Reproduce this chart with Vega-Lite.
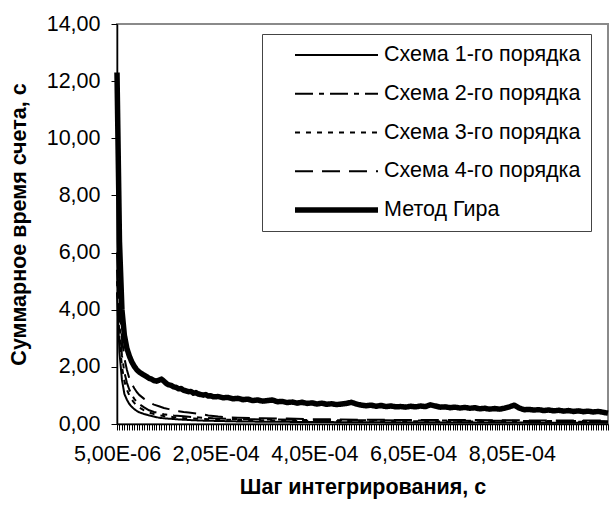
{
  "$schema": "https://vega.github.io/schema/vega-lite/v6.json",
  "width": 491,
  "height": 400,
  "autosize": {"type": "none"},
  "padding": {"left": 117, "top": 24, "right": 2, "bottom": 82},
  "background": "white",
  "config": {
    "font": "Liberation Sans",
    "view": {"stroke": "#8a8a8a", "strokeWidth": 2}
  },
  "data": {"values": [
    {"s":"Схема 1-го порядка","h":0.000005,"t":4.6},{"s":"Схема 1-го порядка","h":0.00001,"t":2.5},{"s":"Схема 1-го порядка","h":0.000015,"t":1.55},{"s":"Схема 1-го порядка","h":0.00002,"t":1.05},{"s":"Схема 1-го порядка","h":0.000025,"t":0.85},
    {"s":"Схема 1-го порядка","h":0.00003,"t":0.7},{"s":"Схема 1-го порядка","h":0.000035,"t":0.6},{"s":"Схема 1-го порядка","h":0.00004,"t":0.52},{"s":"Схема 1-го порядка","h":0.000045,"t":0.46},{"s":"Схема 1-го порядка","h":0.00005,"t":0.41},
    {"s":"Схема 1-го порядка","h":0.00006,"t":0.35},{"s":"Схема 1-го порядка","h":0.00007,"t":0.3},{"s":"Схема 1-го порядка","h":0.00008,"t":0.26},{"s":"Схема 1-го порядка","h":0.00009,"t":0.22},{"s":"Схема 1-го порядка","h":0.0001,"t":0.2},
    {"s":"Схема 1-го порядка","h":0.000115,"t":0.18},{"s":"Схема 1-го порядка","h":0.00013,"t":0.16},{"s":"Схема 1-го порядка","h":0.00015,"t":0.14},{"s":"Схема 1-го порядка","h":0.000175,"t":0.12},{"s":"Схема 1-го порядка","h":0.0002,"t":0.11},
    {"s":"Схема 1-го порядка","h":0.00025,"t":0.09},{"s":"Схема 1-го порядка","h":0.0003,"t":0.08},{"s":"Схема 1-го порядка","h":0.0004,"t":0.07},{"s":"Схема 1-го порядка","h":0.0005,"t":0.06},{"s":"Схема 1-го порядка","h":0.00065,"t":0.05},
    {"s":"Схема 1-го порядка","h":0.0008,"t":0.05},{"s":"Схема 1-го порядка","h":0.001,"t":0.04},

    {"s":"Схема 2-го порядка","h":0.000005,"t":5.4},{"s":"Схема 2-го порядка","h":0.00001,"t":3.5},{"s":"Схема 2-го порядка","h":0.000015,"t":2.4},{"s":"Схема 2-го порядка","h":0.00002,"t":1.8},{"s":"Схема 2-го порядка","h":0.000025,"t":1.45},
    {"s":"Схема 2-го порядка","h":0.00003,"t":1.2},{"s":"Схема 2-го порядка","h":0.000035,"t":1.02},{"s":"Схема 2-го порядка","h":0.00004,"t":0.88},{"s":"Схема 2-го порядка","h":0.000045,"t":0.78},{"s":"Схема 2-го порядка","h":0.00005,"t":0.7},
    {"s":"Схема 2-го порядка","h":0.00006,"t":0.58},{"s":"Схема 2-го порядка","h":0.00007,"t":0.48},{"s":"Схема 2-го порядка","h":0.00008,"t":0.42},{"s":"Схема 2-го порядка","h":0.00009,"t":0.38},{"s":"Схема 2-го порядка","h":0.0001,"t":0.34},
    {"s":"Схема 2-го порядка","h":0.00012,"t":0.3},{"s":"Схема 2-го порядка","h":0.00014,"t":0.27},{"s":"Схема 2-го порядка","h":0.00016,"t":0.24},{"s":"Схема 2-го порядка","h":0.00018,"t":0.22},{"s":"Схема 2-го порядка","h":0.0002,"t":0.2},
    {"s":"Схема 2-го порядка","h":0.00025,"t":0.17},{"s":"Схема 2-го порядка","h":0.0003,"t":0.16},{"s":"Схема 2-го порядка","h":0.0004,"t":0.14},{"s":"Схема 2-го порядка","h":0.0005,"t":0.13},{"s":"Схема 2-го порядка","h":0.00065,"t":0.12},
    {"s":"Схема 2-го порядка","h":0.0008,"t":0.11},{"s":"Схема 2-го порядка","h":0.001,"t":0.1},

    {"s":"Схема 3-го порядка","h":0.000005,"t":5.0},{"s":"Схема 3-го порядка","h":0.00001,"t":3.0},{"s":"Схема 3-го порядка","h":0.000015,"t":2.0},{"s":"Схема 3-го порядка","h":0.00002,"t":1.5},{"s":"Схема 3-го порядка","h":0.000025,"t":1.2},
    {"s":"Схема 3-го порядка","h":0.00003,"t":1.0},{"s":"Схема 3-го порядка","h":0.000035,"t":0.85},{"s":"Схема 3-го порядка","h":0.00004,"t":0.74},{"s":"Схема 3-го порядка","h":0.000045,"t":0.65},{"s":"Схема 3-го порядка","h":0.00005,"t":0.58},
    {"s":"Схема 3-го порядка","h":0.00006,"t":0.48},{"s":"Схема 3-го порядка","h":0.00007,"t":0.4},{"s":"Схема 3-го порядка","h":0.00008,"t":0.35},{"s":"Схема 3-го порядка","h":0.00009,"t":0.31},{"s":"Схема 3-го порядка","h":0.0001,"t":0.28},
    {"s":"Схема 3-го порядка","h":0.00012,"t":0.24},{"s":"Схема 3-го порядка","h":0.00014,"t":0.21},{"s":"Схема 3-го порядка","h":0.00016,"t":0.19},{"s":"Схема 3-го порядка","h":0.0002,"t":0.16},{"s":"Схема 3-го порядка","h":0.00025,"t":0.14},
    {"s":"Схема 3-го порядка","h":0.0003,"t":0.13},{"s":"Схема 3-го порядка","h":0.0004,"t":0.11},{"s":"Схема 3-го порядка","h":0.0005,"t":0.1},{"s":"Схема 3-го порядка","h":0.00065,"t":0.09},{"s":"Схема 3-го порядка","h":0.0008,"t":0.08},
    {"s":"Схема 3-го порядка","h":0.001,"t":0.08},

    {"s":"Схема 4-го порядка","h":0.000005,"t":6.0},{"s":"Схема 4-го порядка","h":0.00001,"t":4.2},{"s":"Схема 4-го порядка","h":0.000015,"t":3.0},{"s":"Схема 4-го порядка","h":0.00002,"t":2.3},{"s":"Схема 4-го порядка","h":0.000025,"t":1.9},
    {"s":"Схема 4-го порядка","h":0.00003,"t":1.6},{"s":"Схема 4-го порядка","h":0.000035,"t":1.4},{"s":"Схема 4-го порядка","h":0.00004,"t":1.25},{"s":"Схема 4-го порядка","h":0.000045,"t":1.12},{"s":"Схема 4-го порядка","h":0.00005,"t":1.02},
    {"s":"Схема 4-го порядка","h":0.00006,"t":0.88},{"s":"Схема 4-го порядка","h":0.00007,"t":0.76},{"s":"Схема 4-го порядка","h":0.00008,"t":0.68},{"s":"Схема 4-го порядка","h":0.00009,"t":0.62},{"s":"Схема 4-го порядка","h":0.0001,"t":0.56},
    {"s":"Схема 4-го порядка","h":0.00011,"t":0.52},{"s":"Схема 4-го порядка","h":0.00012,"t":0.48},{"s":"Схема 4-го порядка","h":0.00013,"t":0.45},{"s":"Схема 4-го порядка","h":0.00014,"t":0.42},{"s":"Схема 4-го порядка","h":0.00015,"t":0.4},
    {"s":"Схема 4-го порядка","h":0.00017,"t":0.36},{"s":"Схема 4-го порядка","h":0.00019,"t":0.3},{"s":"Схема 4-го порядка","h":0.00021,"t":0.26},{"s":"Схема 4-го порядка","h":0.00023,"t":0.23},{"s":"Схема 4-го порядка","h":0.00025,"t":0.22},
    {"s":"Схема 4-го порядка","h":0.0003,"t":0.2},{"s":"Схема 4-го порядка","h":0.00035,"t":0.19},{"s":"Схема 4-го порядка","h":0.0004,"t":0.17},{"s":"Схема 4-го порядка","h":0.00045,"t":0.16},{"s":"Схема 4-го порядка","h":0.0005,"t":0.15},
    {"s":"Схема 4-го порядка","h":0.0006,"t":0.14},{"s":"Схема 4-го порядка","h":0.0007,"t":0.14},{"s":"Схема 4-го порядка","h":0.0008,"t":0.13},{"s":"Схема 4-го порядка","h":0.0009,"t":0.12},{"s":"Схема 4-го порядка","h":0.001,"t":0.12},

    {"s":"Метод Гира","h":0.000005,"t":12.3},{"s":"Метод Гира","h":0.00001,"t":6.4},{"s":"Метод Гира","h":0.000015,"t":4.0},{"s":"Метод Гира","h":0.00002,"t":3.1},{"s":"Метод Гира","h":0.000025,"t":2.65},
    {"s":"Метод Гира","h":0.00003,"t":2.38},{"s":"Метод Гира","h":0.000035,"t":2.17},{"s":"Метод Гира","h":0.00004,"t":2.02},{"s":"Метод Гира","h":0.000045,"t":1.9},{"s":"Метод Гира","h":0.00005,"t":1.82},
    {"s":"Метод Гира","h":0.000055,"t":1.76},{"s":"Метод Гира","h":0.00006,"t":1.71},{"s":"Метод Гира","h":0.000065,"t":1.66},{"s":"Метод Гира","h":0.00007,"t":1.6},{"s":"Метод Гира","h":0.000075,"t":1.57},
    {"s":"Метод Гира","h":0.00008,"t":1.52},{"s":"Метод Гира","h":0.000085,"t":1.5},{"s":"Метод Гира","h":0.00009,"t":1.53},{"s":"Метод Гира","h":0.000095,"t":1.57},{"s":"Метод Гира","h":0.0001,"t":1.5},
    {"s":"Метод Гира","h":0.000105,"t":1.42},{"s":"Метод Гира","h":0.00011,"t":1.37},{"s":"Метод Гира","h":0.000115,"t":1.35},{"s":"Метод Гира","h":0.00012,"t":1.3},{"s":"Метод Гира","h":0.000125,"t":1.28},
    {"s":"Метод Гира","h":0.00013,"t":1.23},{"s":"Метод Гира","h":0.000135,"t":1.24},{"s":"Метод Гира","h":0.00014,"t":1.18},{"s":"Метод Гира","h":0.000145,"t":1.16},{"s":"Метод Гира","h":0.00015,"t":1.13},
    {"s":"Метод Гира","h":0.000155,"t":1.14},{"s":"Метод Гира","h":0.00016,"t":1.08},{"s":"Метод Гира","h":0.000165,"t":1.1},{"s":"Метод Гира","h":0.00017,"t":1.05},{"s":"Метод Гира","h":0.000175,"t":1.03},
    {"s":"Метод Гира","h":0.00018,"t":1.01},{"s":"Метод Гира","h":0.000185,"t":1.03},{"s":"Метод Гира","h":0.00019,"t":0.98},{"s":"Метод Гира","h":0.000195,"t":0.99},{"s":"Метод Гира","h":0.0002,"t":0.95},
    {"s":"Метод Гира","h":0.00021,"t":0.96},{"s":"Метод Гира","h":0.00022,"t":0.92},{"s":"Метод Гира","h":0.00023,"t":0.93},{"s":"Метод Гира","h":0.00024,"t":0.88},{"s":"Метод Гира","h":0.00025,"t":0.9},
    {"s":"Метод Гира","h":0.00026,"t":0.85},{"s":"Метод Гира","h":0.00027,"t":0.87},{"s":"Метод Гира","h":0.00028,"t":0.82},{"s":"Метод Гира","h":0.00029,"t":0.84},{"s":"Метод Гира","h":0.0003,"t":0.8},
    {"s":"Метод Гира","h":0.00031,"t":0.82},{"s":"Метод Гира","h":0.00032,"t":0.84},{"s":"Метод Гира","h":0.00033,"t":0.78},{"s":"Метод Гира","h":0.00034,"t":0.79},{"s":"Метод Гира","h":0.00035,"t":0.75},
    {"s":"Метод Гира","h":0.00036,"t":0.77},{"s":"Метод Гира","h":0.00037,"t":0.73},{"s":"Метод Гира","h":0.00038,"t":0.76},{"s":"Метод Гира","h":0.00039,"t":0.72},{"s":"Метод Гира","h":0.0004,"t":0.74},
    {"s":"Метод Гира","h":0.00041,"t":0.7},{"s":"Метод Гира","h":0.00042,"t":0.73},{"s":"Метод Гира","h":0.00043,"t":0.69},{"s":"Метод Гира","h":0.00044,"t":0.71},{"s":"Метод Гира","h":0.00045,"t":0.68},
    {"s":"Метод Гира","h":0.00046,"t":0.7},{"s":"Метод Гира","h":0.00047,"t":0.72},{"s":"Метод Гира","h":0.00048,"t":0.76},{"s":"Метод Гира","h":0.00049,"t":0.7},{"s":"Метод Гира","h":0.0005,"t":0.66},
    {"s":"Метод Гира","h":0.00051,"t":0.64},{"s":"Метод Гира","h":0.00052,"t":0.66},{"s":"Метод Гира","h":0.00053,"t":0.62},{"s":"Метод Гира","h":0.00054,"t":0.65},{"s":"Метод Гира","h":0.00055,"t":0.61},
    {"s":"Метод Гира","h":0.00056,"t":0.63},{"s":"Метод Гира","h":0.00057,"t":0.6},{"s":"Метод Гира","h":0.00058,"t":0.61},{"s":"Метод Гира","h":0.00059,"t":0.59},{"s":"Метод Гира","h":0.0006,"t":0.62},
    {"s":"Метод Гира","h":0.00061,"t":0.6},{"s":"Метод Гира","h":0.00062,"t":0.63},{"s":"Метод Гира","h":0.00063,"t":0.61},{"s":"Метод Гира","h":0.00064,"t":0.67},{"s":"Метод Гира","h":0.00065,"t":0.63},
    {"s":"Метод Гира","h":0.00066,"t":0.59},{"s":"Метод Гира","h":0.00067,"t":0.6},{"s":"Метод Гира","h":0.00068,"t":0.57},{"s":"Метод Гира","h":0.00069,"t":0.59},{"s":"Метод Гира","h":0.0007,"t":0.56},
    {"s":"Метод Гира","h":0.00071,"t":0.58},{"s":"Метод Гира","h":0.00072,"t":0.55},{"s":"Метод Гира","h":0.00073,"t":0.57},{"s":"Метод Гира","h":0.00074,"t":0.53},{"s":"Метод Гира","h":0.00075,"t":0.55},
    {"s":"Метод Гира","h":0.00076,"t":0.52},{"s":"Метод Гира","h":0.00077,"t":0.54},{"s":"Метод Гира","h":0.00078,"t":0.52},{"s":"Метод Гира","h":0.00079,"t":0.55},{"s":"Метод Гира","h":0.0008,"t":0.6},
    {"s":"Метод Гира","h":0.00081,"t":0.66},{"s":"Метод Гира","h":0.00082,"t":0.56},{"s":"Метод Гира","h":0.00083,"t":0.5},{"s":"Метод Гира","h":0.00084,"t":0.51},{"s":"Метод Гира","h":0.00085,"t":0.49},
    {"s":"Метод Гира","h":0.00086,"t":0.5},{"s":"Метод Гира","h":0.00087,"t":0.47},{"s":"Метод Гира","h":0.00088,"t":0.49},{"s":"Метод Гира","h":0.00089,"t":0.46},{"s":"Метод Гира","h":0.0009,"t":0.48},
    {"s":"Метод Гира","h":0.00091,"t":0.45},{"s":"Метод Гира","h":0.00092,"t":0.47},{"s":"Метод Гира","h":0.00093,"t":0.44},{"s":"Метод Гира","h":0.00094,"t":0.46},{"s":"Метод Гира","h":0.00095,"t":0.43},
    {"s":"Метод Гира","h":0.00096,"t":0.45},{"s":"Метод Гира","h":0.00097,"t":0.42},{"s":"Метод Гира","h":0.00098,"t":0.44},{"s":"Метод Гира","h":0.00099,"t":0.41},{"s":"Метод Гира","h":0.001,"t":0.38}
  ]},
  "mark": {"type": "line", "color": "black", "strokeCap": "butt", "strokeJoin": "round"},
  "encoding": {
    "x": {
      "field": "h", "type": "quantitative",
      "scale": {"domain": [0.000005, 0.001], "nice": false, "zero": false},
      "axis": {
        "title": "Шаг интегрирования, с",
        "tickCount": 200,
        "labelExpr": "round(datum.value/0.000005) == 1 ? '5,00E-06' : round(datum.value/0.000005) == 41 ? '2,05E-04' : round(datum.value/0.000005) == 81 ? '4,05E-04' : round(datum.value/0.000005) == 121 ? '6,05E-04' : round(datum.value/0.000005) == 161 ? '8,05E-04' : ''",
        "labelOverlap": false,
        "labelFlush": false,
        "labelBound": false,
        "grid": false,
        "domainColor": "black",
        "domainWidth": 1.5,
        "tickColor": "black",
        "tickWidth": 1,
        "tickSize": 6,
        "labelFont": "Liberation Sans",
        "labelFontSize": 21.5,
        "labelColor": "black",
        "labelPadding": 13,
        "titleFont": "Liberation Sans",
        "titleFontSize": 21.5,
        "titleFontWeight": "bold",
        "titleColor": "black",
        "titlePadding": 12
      }
    },
    "y": {
      "field": "t", "type": "quantitative",
      "scale": {"domain": [0, 14], "nice": false},
      "axis": {
        "title": "Суммарное время счета, с",
        "values": [0, 2, 4, 6, 8, 10, 12, 14],
        "labelExpr": "replace(format(datum.value, '.2f'), '.', ',')",
        "grid": false,
        "domainColor": "black",
        "domainWidth": 1.5,
        "tickColor": "black",
        "tickWidth": 1,
        "tickSize": 6,
        "labelFont": "Liberation Sans",
        "labelFontSize": 21.5,
        "labelColor": "black",
        "labelPadding": 11,
        "titleFont": "Liberation Sans",
        "titleFontSize": 21.5,
        "titleFontWeight": "bold",
        "titleColor": "black",
        "titlePadding": 16
      }
    },
    "strokeDash": {
      "field": "s", "type": "ordinal",
      "scale": {
        "domain": ["Схема 1-го порядка", "Схема 2-го порядка", "Схема 3-го порядка", "Схема 4-го порядка", "Метод Гира"],
        "range": [[1, 0], [18, 6, 5, 6], [5, 6], [18, 9], [1, 0]]
      },
      "legend": {
        "title": null,
        "orient": "none",
        "legendX": 145,
        "legendY": 10,
        "strokeColor": "#444",
        "fillColor": "white",
        "padding": 10,
        "symbolType": "stroke",
        "symbolSize": 6889,
        "symbolOffset": 20,
        "symbolStrokeColor": "black",
        "labelOffset": 3,
        "clipHeight": 22,
        "rowPadding": 16.75,
        "labelFont": "Liberation Sans",
        "labelFontSize": 21.5,
        "labelColor": "black",
        "labelLimit": 400
      }
    },
    "strokeWidth": {
      "field": "s", "type": "ordinal",
      "scale": {
        "type": "ordinal",
        "domain": ["Схема 1-го порядка", "Схема 2-го порядка", "Схема 3-го порядка", "Схема 4-го порядка", "Метод Гира"],
        "range": [2, 2, 2, 2, 5.5]
      },
      "legend": {
        "title": null,
        "orient": "none",
        "legendX": 145,
        "legendY": 10,
        "strokeColor": "#444",
        "fillColor": "white",
        "padding": 10,
        "symbolType": "stroke",
        "symbolSize": 6889,
        "symbolOffset": 20,
        "symbolStrokeColor": "black",
        "labelOffset": 3,
        "clipHeight": 22,
        "rowPadding": 16.75,
        "labelFont": "Liberation Sans",
        "labelFontSize": 21.5,
        "labelColor": "black",
        "labelLimit": 400
      }
    }
  }
}
